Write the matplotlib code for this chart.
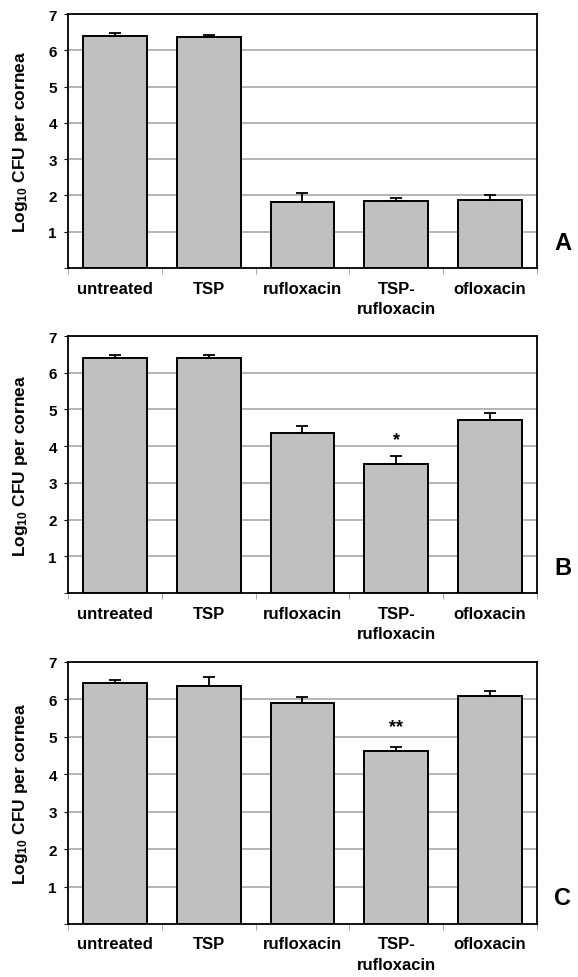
import numpy as np
import matplotlib
matplotlib.use('Agg')
import matplotlib.pyplot as plt

plt.rcParams['font.family'] = ['Liberation Sans', 'DejaVu Sans']
plt.rcParams['font.weight'] = 'bold'
plt.rcParams['axes.labelweight'] = 'bold'
plt.rcParams['mathtext.fontset'] = 'custom'
plt.rcParams['mathtext.rm'] = 'Liberation Sans:bold'
plt.rcParams['mathtext.it'] = 'Liberation Sans:bold'
plt.rcParams['mathtext.bf'] = 'Liberation Sans:bold'

################################################# data ####################################################

categories = ['untreated', 'TSP', 'rufloxacin', 'TSP-\nrufloxacin', 'ofloxacin']

mean_a = [6.40, 6.37, 1.81, 1.85, 1.88]
err_a = [0.08, 0.04, 0.25, 0.08, 0.12]

mean_b = [6.39, 6.39, 4.36, 3.52, 4.71]
err_b = [0.10, 0.10, 0.19, 0.22, 0.20]

mean_c = [6.44, 6.35, 5.90, 4.61, 6.10]
err_c = [0.08, 0.24, 0.16, 0.13, 0.13]

# significance marks: (panel, bar index, label, y value)
stars = [('B', 3, '*', 4.18), ('C', 3, '**', 5.28)]

panel_letters = ['A', 'B', 'C']
y_ticks = [1, 2, 3, 4, 5, 6, 7]

################################################# functions ####################################################

def draw_panel(ax, mean, err, letter):
	x = np.arange(len(categories))
	ax.set_axisbelow(True)
	ax.yaxis.grid(True, color='#a8a8a8', linewidth=1.2)
	ax.bar(x, mean, width=0.68, color='#c0c0c0', edgecolor='black', linewidth=1.4,
		yerr=[np.zeros(len(err)), err], zorder=2,
		error_kw=dict(ecolor='black', elinewidth=1.3, capsize=4, capthick=1.3))
	ax.set_xlim(-0.5, len(categories) - 0.5)
	ax.set_ylim(0, 7)
	ax.set_yticks(y_ticks)
	ax.set_yticks([0] + y_ticks, minor=True)
	ax.tick_params(axis='y', which='major', length=3, labelsize=11, pad=5)
	ax.tick_params(axis='y', which='minor', length=3)
	ax.set_xticks(x)
	ax.set_xticklabels(categories, fontsize=12, linespacing=1.45)
	ax.set_xticks(np.arange(len(categories) + 1) - 0.5, minor=True)
	ax.tick_params(axis='x', which='major', length=0, pad=9)
	ax.tick_params(axis='x', which='minor', length=4, color='#999999')
	for s in ax.spines.values():
		s.set_linewidth(1.3)
	ax.set_ylabel(r'Log$_{10}$ CFU per cornea', fontsize=12.5, fontweight='bold', labelpad=13)
	ax.text(1.055, 0.1, letter, transform=ax.transAxes, fontsize=17, fontweight='bold',
		ha='center', va='center')
	for p, i, label, yv in stars:
		if p == letter:
			ax.text(i, yv, label, ha='center', va='center', fontsize=13, fontweight='bold')

################## build the three panels #################

fig = plt.figure(figsize=(5.78, 9.78), dpi=100)

ax_a = fig.add_axes([0.1176, 0.7249, 0.8114, 0.2597])
ax_b = fig.add_axes([0.1176, 0.3926, 0.8114, 0.2628])
ax_c = fig.add_axes([0.1176, 0.0542, 0.8114, 0.2679])

draw_panel(ax_a, mean_a, err_a, 'A')
draw_panel(ax_b, mean_b, err_b, 'B')
draw_panel(ax_c, mean_c, err_c, 'C')

fig.savefig('out.png', dpi=100)
